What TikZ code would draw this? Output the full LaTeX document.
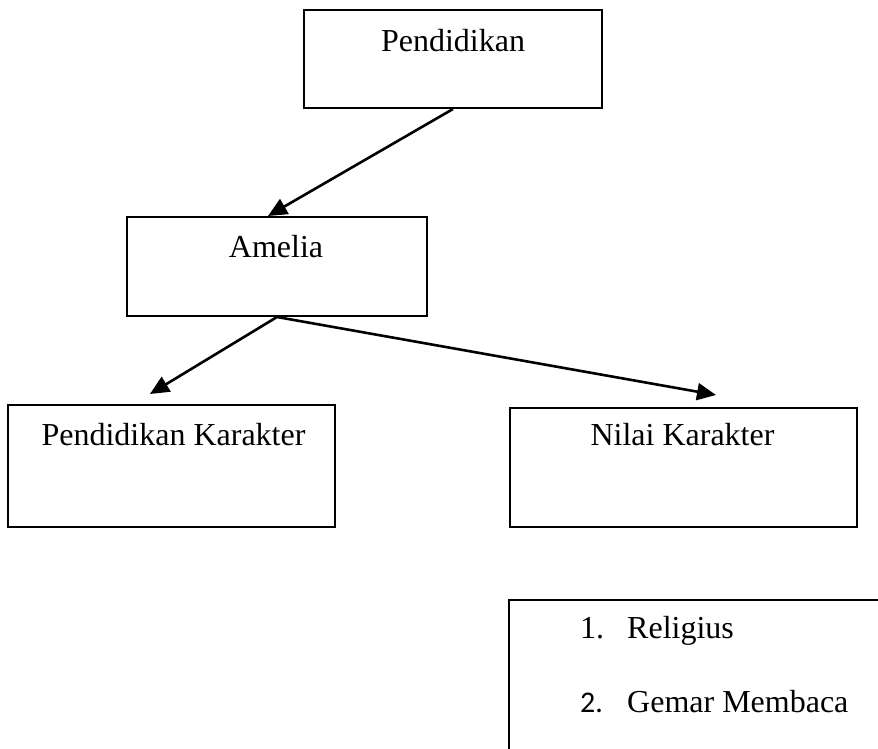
\documentclass[tikz,border=0pt]{standalone}
\usepackage{fontspec}
\setmainfont{Liberation Serif}
\newfontfamily\numfont{Carlito}
\usetikzlibrary{arrows.meta,calc}
\begin{document}
\begin{tikzpicture}[x=1pt,y=-1pt,
  box/.style={draw=black,line width=2pt,rectangle,inner sep=0pt},
  txt/.style={font=\fontsize{32}{37}\selectfont,anchor=base,inner sep=0pt},
  arr/.style={line width=2.6pt,-{Triangle[length=19pt,width=17pt]}}]
\useasboundingbox (0,0) rectangle (878,749);
\node[box,minimum width=298pt,minimum height=98pt] (p) at (453,59) {};
\node[txt] (pt) at (453,52) {Pendidikan};
\node[box,minimum width=300pt,minimum height=99pt] (a) at (277,266.5) {};
\node[txt] (at) at (276,257) {Amelia};
\node[box,minimum width=327pt,minimum height=122pt] (pk) at (171.5,466) {};
\node[txt] (pkt) at (173.5,445) {Pendidikan Karakter};
\node[box,minimum width=347pt,minimum height=119pt] (nk) at (683.5,467.5) {};
\node[txt] (nkt) at (682.5,445) {Nilai Karakter};
\draw[line width=2pt] (900,600) -- (509,600) -- (509,760);
\node[txt,anchor=base west] (n1) at (580,638) {1.};
\node[txt,anchor=base west] (r1) at (627,638) {Religius};
\node[txt,anchor=base west,font=\numfont\fontsize{30}{35}\selectfont] (n2) at (580,712) {2.};
\node[txt,anchor=base west] (r2) at (627,712) {Gemar Membaca};
\coordinate (e1) at (150,394);
\coordinate (e2) at (716,395);
\draw[arr] (p.south) -- ($(a.north)+(-9,0)$);
\draw[arr] (a.south) -- (e1);
\draw[arr] (a.south) -- (e2);
\end{tikzpicture}
\end{document}
